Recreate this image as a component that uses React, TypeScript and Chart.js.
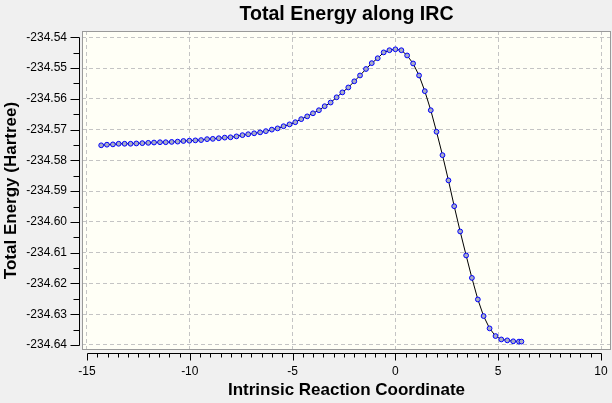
import React, { useEffect, useRef } from 'react';
import { Chart, registerables } from 'chart.js';

Chart.register(...registerables);

// IRC points: reaction coordinate and total energy (Hartree)
const coordinate = [
  -14.31, -14.03, -13.74, -13.46, -13.17, -12.88, -12.6, -12.31, -12.02, -11.74,
  -11.45, -11.17, -10.88, -10.59, -10.31, -10.02, -9.73, -9.45, -9.16, -8.88,
  -8.59, -8.3, -8.02, -7.73, -7.44, -7.16, -6.87, -6.58, -6.3, -6.01,
  -5.73, -5.44, -5.15, -4.87, -4.58, -4.29, -4.01, -3.72, -3.44, -3.15,
  -2.86, -2.58, -2.29, -2.0, -1.72, -1.43, -1.15, -0.86, -0.57, -0.29,
  0.0, 0.29, 0.57, 0.86, 1.15, 1.43, 1.72, 2.0, 2.29, 2.58,
  2.86, 3.15, 3.44, 3.72, 4.01, 4.29, 4.58, 4.87, 5.15, 5.44,
  5.73, 6.01, 6.13,
];

const energy = [
  -234.5751, -234.5749, -234.5748, -234.5746, -234.5746, -234.5746, -234.5745, -234.5744, -234.5743, -234.5742,
  -234.5741, -234.5741, -234.574, -234.5739, -234.5737, -234.5736, -234.5735, -234.5734, -234.5731, -234.573,
  -234.5728, -234.5726, -234.5725, -234.5722, -234.5718, -234.5715, -234.5712, -234.5709, -234.5705, -234.57,
  -234.5696, -234.5689, -234.5683, -234.5676, -234.5666, -234.5657, -234.5647, -234.5637, -234.5624, -234.5612,
  -234.5595, -234.5579, -234.5563, -234.5543, -234.5524, -234.5503, -234.5484, -234.5468, -234.5449, -234.5442,
  -234.5439, -234.5442, -234.5459, -234.5485, -234.5524, -234.5575, -234.5637, -234.5707, -234.5783, -234.5865,
  -234.5949, -234.6031, -234.6109, -234.6182, -234.6252, -234.6306, -234.6346, -234.6371, -234.6382, -234.6385,
  -234.6388, -234.6389, -234.6389,
];

const xTicks = [-15, -10, -5, 0, 5, 10];
const yTicks = [
  -234.54, -234.55, -234.56, -234.57, -234.58, -234.59,
  -234.6, -234.61, -234.62, -234.63, -234.64,
];

const FONT = '"Liberation Sans", Arial, sans-serif';

// plot box, axis rulers with minor ticks and the title
const framePlugin = {
  id: 'frame',
  beforeDraw(chart: any) {
    const { ctx, chartArea: a } = chart;
    ctx.save();
    ctx.fillStyle = '#f0f0f0';
    ctx.fillRect(0, 0, chart.width, chart.height);
    ctx.fillStyle = '#fffff6';
    ctx.fillRect(a.left, a.top, a.right - a.left, a.bottom - a.top);
    ctx.restore();
  },
  afterDraw(chart: any) {
    const { ctx, chartArea: a, scales } = chart;
    const xs = scales.x;
    const ys = scales.y;
    ctx.save();
    ctx.lineWidth = 1;
    ctx.strokeStyle = '#9a9a9a';
    ctx.strokeRect(a.left + 0.5, a.top + 0.5, a.right - a.left - 1, a.bottom - a.top - 1);

    ctx.strokeStyle = '#000';
    ctx.beginPath();
    // y ruler
    const rx = a.left - 2.5;
    const yTop = Math.round(ys.getPixelForValue(yTicks[0])) + 0.5;
    const yBot = Math.round(ys.getPixelForValue(yTicks[yTicks.length - 1])) + 0.5;
    ctx.moveTo(rx, yTop);
    ctx.lineTo(rx, yBot);
    for (let k = 0; k <= 20; k++) {
      const v = yTicks[0] - k * 0.005;
      const py = Math.round(ys.getPixelForValue(v)) + 0.5;
      const len = k % 2 === 0 ? 9 : 6;
      ctx.moveTo(rx, py);
      ctx.lineTo(rx - len, py);
    }
    // x ruler
    const ry = a.bottom + 3.5;
    const xL = Math.round(xs.getPixelForValue(xTicks[0])) + 0.5;
    const xR = Math.round(xs.getPixelForValue(xTicks[xTicks.length - 1])) + 0.5;
    ctx.moveTo(xL, ry);
    ctx.lineTo(xR, ry);
    for (let k = 0; k <= 50; k++) {
      const v = xTicks[0] + k * 0.5;
      const px = Math.round(xs.getPixelForValue(v)) + 0.5;
      const len = k % 10 === 0 ? 7 : 4;
      ctx.moveTo(px, ry);
      ctx.lineTo(px, ry + len);
    }
    ctx.stroke();

    ctx.fillStyle = '#000';
    ctx.font = 'bold 19.6px ' + FONT;
    ctx.textAlign = 'center';
    ctx.textBaseline = 'alphabetic';
    ctx.fillText('Total Energy along IRC', (a.left + a.right) / 2, 19.5);
    ctx.restore();
  },
};

const App: React.FC = () => {
  const chartRef = useRef<HTMLCanvasElement>(null);

  useEffect(() => {
    if (!chartRef.current) return;
    const ctx = chartRef.current.getContext('2d');
    const chartInstance = new Chart(ctx as any, {
      type: 'scatter',
      data: {
        datasets: [
          {
            label: 'Total Energy',
            data: coordinate.map((c, i) => ({ x: c, y: energy[i] })),
            showLine: true,
            borderColor: '#000000',
            borderWidth: 1,
            tension: 0,
            pointRadius: 2.4,
            pointBorderWidth: 1,
            pointBackgroundColor: '#aaaec4',
            pointBorderColor: '#0000ff',
          },
        ],
      },
      options: {
        animation: false,
        responsive: false,
        maintainAspectRatio: false,
        layout: { autoPadding: false, padding: { left: 0, top: 31, right: 1, bottom: 0 } },
        plugins: {
          legend: { display: false },
          tooltip: { enabled: false },
        },
        scales: {
          x: {
            type: 'linear',
            min: -15.243,
            max: 10.486,
            afterBuildTicks: (s: any) => {
              s.ticks = xTicks.map((v) => ({ value: v }));
            },
            afterFit: (s: any) => {
              s.height = 53;
              s.paddingLeft = 0;
              s.paddingRight = 0;
            },
            grid: {
              color: '#c4c4c4',
              lineWidth: 1,
              drawTicks: true,
              tickLength: 14,
              tickColor: 'rgba(0,0,0,0)',
            },
            border: { display: false, dash: [4, 3] },
            ticks: {
              autoSkip: false,
              maxRotation: 0,
              padding: 0,
              color: '#000',
              font: { family: FONT, size: 12 },
            },
            title: {
              display: true,
              text: 'Intrinsic Reaction Coordinate',
              color: '#000',
              font: { family: FONT, size: 17, weight: 'bold' },
              padding: { top: 0, bottom: 2 },
            },
          },
          y: {
            type: 'linear',
            min: -234.64163,
            max: -234.53795,
            afterBuildTicks: (s: any) => {
              s.ticks = yTicks.map((v) => ({ value: v }));
            },
            afterFit: (s: any) => {
              s.width = 82;
              s.paddingTop = 0;
              s.paddingBottom = 0;
            },
            grid: {
              color: '#c4c4c4',
              lineWidth: 1,
              drawTicks: true,
              tickLength: 15,
              tickColor: 'rgba(0,0,0,0)',
            },
            border: { display: false, dash: [4, 3] },
            ticks: {
              autoSkip: false,
              padding: 0,
              color: '#000',
              font: { family: FONT, size: 12 },
              callback: (v: any) => Number(v).toFixed(2),
            },
            title: {
              display: true,
              text: 'Total Energy (Hartree)',
              color: '#000',
              font: { family: FONT, size: 17, weight: 'bold' },
              padding: { top: 1, bottom: 0 },
            },
          },
        },
      },
      plugins: [framePlugin],
    });

    return () => {
      chartInstance.destroy();
    };
  }, []);

  return (
    <div style={{ position: 'absolute', left: 0, top: 0, width: 612, height: 403, background: '#f0f0f0' }}>
      <canvas ref={chartRef} width={612} height={403} style={{ display: 'block' }} />
    </div>
  );
};

export default App;
